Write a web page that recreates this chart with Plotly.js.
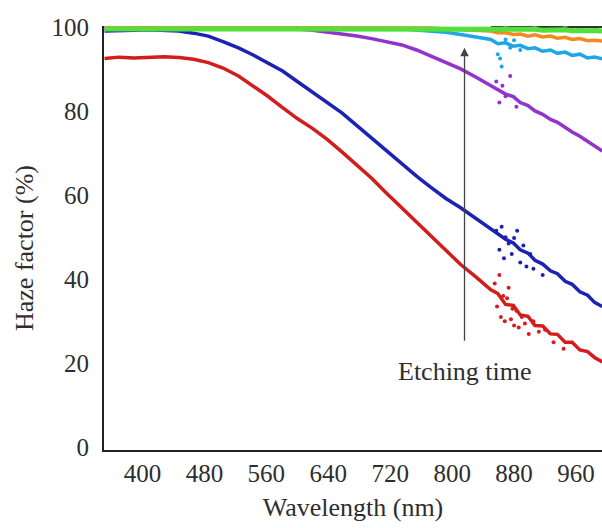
<!DOCTYPE html>
<html>
<head>
<meta charset="utf-8">
<script src="https://cdn.plot.ly/plotly-3.0.1.min.js"></script>
<style>html,body{margin:0;padding:0;background:#fff;}#chart{width:602px;height:528px;}</style>
</head>
<body>
<div id="chart"></div>
<script>
// Wavelength grid (nm)
const wavelength = [351,370,389,408,428,447,466,485,504,524,543,562,581,600,620,639,658,677,696,715,735,754,773,792,811,831,850,859,869,879,888,898,907,917,927,936,946,955,965,975,984,994];

// Haze factor (%) per etching time
const hazeRed    = [92.5,92.8,92.6,92.8,92.9,92.7,92.3,91.5,90.2,88.3,86.0,83.5,80.8,78.2,75.8,73.2,70.2,67.0,64.0,60.5,57.0,53.5,50.2,47.0,43.5,40.5,37.5,36.6,34.0,33.8,31.5,31.2,29.0,28.9,27.0,26.9,25.0,25.0,23.2,22.8,21.4,20.3];
const hazeBlue   = [99.0,99.2,99.2,99.3,99.2,99.0,98.5,97.8,96.5,95.0,93.3,91.5,89.5,87.0,84.5,82.0,79.5,76.5,73.5,70.5,67.5,64.5,61.8,59.2,57.0,54.5,52.0,50.8,49.5,48.6,47.0,46.2,44.5,43.6,42.0,41.3,39.5,38.8,37.0,36.2,34.5,33.5];
const hazePurple = [99.7,99.7,99.7,99.7,99.7,99.7,99.7,99.7,99.7,99.7,99.6,99.6,99.6,99.5,99.2,98.8,98.3,97.8,97.2,96.5,95.7,94.5,93.0,91.5,90.0,88.0,86.0,85.2,84.0,83.4,82.0,81.3,80.0,79.2,78.0,77.3,76.0,75.0,74.0,72.8,71.5,70.5];
const hazeCyan   = [99.8,99.8,99.8,99.8,99.8,99.8,99.8,99.8,99.8,99.8,99.8,99.8,99.8,99.8,99.8,99.8,99.8,99.8,99.7,99.6,99.5,99.3,99.0,98.7,98.2,97.6,97.0,96.0,96.2,95.4,95.6,94.8,95.0,94.2,94.5,93.7,94.0,93.2,93.5,92.6,92.8,92.4];
const hazeOrange = [99.8,99.8,99.8,99.8,99.8,99.8,99.8,99.8,99.8,99.8,99.8,99.8,99.8,99.8,99.8,99.8,99.8,99.8,99.8,99.8,99.8,99.8,99.7,99.5,99.3,99.1,99.0,98.6,98.6,98.2,98.3,97.8,98.1,97.6,97.8,97.3,97.5,97.0,97.2,96.7,96.8,96.6];
const hazeGreen  = [99.5,99.5,99.5,99.5,99.5,99.5,99.5,99.5,99.5,99.5,99.5,99.5,99.5,99.5,99.5,99.5,99.5,99.5,99.5,99.5,99.5,99.5,99.5,99.5,99.5,99.5,99.5,99.4,99.5,99.3,99.4,99.3,99.4,99.2,99.3,99.2,99.3,99.1,99.2,99.1,99.1,99.0];

// Darkest series, only visible above the green one in the near-IR
const darkX = [850,859,869,879,888,898,907,917,927,936,946,955,965,975,984,994];
const darkY = [99.9,100.0,99.8,100.0,99.9,100.0,99.8,100.0,99.9,100.0,99.8,100.0,99.9,100.0,99.9,100.0];

// Scattered noisy readings (near-IR region)
const redScatterX  = [855,858,861,863,866,868,871,873,876,878,880,883,886,890,894,899,905,912,920,931,944];
const redScatterY  = [39.0,33.5,41.0,31.0,36.0,30.0,35.5,38.0,30.5,33.0,29.0,32.5,28.5,31.0,29.5,27.0,30.0,27.5,28.0,25.0,23.5];
const blueScatterX = [857,861,864,867,869,873,877,880,884,888,892,896,901,905,917];
const blueScatterY = [51.5,47.0,52.5,45.0,50.0,48.5,46.0,49.8,51.5,44.0,48.0,43.0,46.0,42.5,41.0];
const purpleScatterX = [857,861,865,869,875,883];
const purpleScatterY = [87.0,82.0,86.0,83.5,88.3,81.0];
const cyanScatterX = [859,862,864,869,875,880,888];
const cyanScatterY = [93.5,92.5,90.6,97.0,95.0,96.8,94.5];

const arrowX = 816, arrowTop = 95.0, arrowBottom = 25, labelY = 18;

const colors = {red:'#d41c1c', blue:'#1c22b4', purple:'#9233cc', cyan:'#1ea6e6', orange:'#f28a1e', green:'#52e03c', dark:'#2a3a22'};

function line(x, y, c, w){ return {x: x, y: y, mode:'lines', line:{color:c, width:w||3.5}, hoverinfo:'skip', showlegend:false}; }
function pts(x, y, c){ return {x: x, y: y, mode:'markers', marker:{color:c, size:4}, hoverinfo:'skip', showlegend:false}; }

const data = [
  line(wavelength, hazeRed, colors.red), pts(redScatterX, redScatterY, colors.red),
  line(wavelength, hazeBlue, colors.blue), pts(blueScatterX, blueScatterY, colors.blue),
  line(wavelength, hazePurple, colors.purple), pts(purpleScatterX, purpleScatterY, colors.purple),
  line(wavelength, hazeCyan, colors.cyan), pts(cyanScatterX, cyanScatterY, colors.cyan),
  line(wavelength, hazeOrange, colors.orange),
  line(darkX, darkY, colors.dark, 2.5),
  line(wavelength, hazeGreen, colors.green, 5)
];

const serif = 'Liberation Serif';
const txt = '#2e2e2e';
const layout = {
  width: 602, height: 528,
  margin: {l:104, r:0, t:26, b:78},
  paper_bgcolor:'#fff', plot_bgcolor:'#fff',
  showlegend:false,
  font:{family: serif, size: 25, color: txt},
  xaxis:{
    range:[350.3, 993.6], tickvals:[400,480,560,640,720,800,880,960],
    showgrid:false, zeroline:false, showline:true, linecolor:'#222', linewidth:2,
    ticks:'',
    tickfont:{family: serif, size:25, color: txt},
    title:{text:'Wavelength (nm)', font:{family: serif, size:26, color: txt}, standoff:12}
  },
  yaxis:{
    range:[-0.6, 100.2], tickvals:[0,20,40,60,80,100],
    showgrid:false, zeroline:false, showline:true, linecolor:'#222', linewidth:2,
    ticks:'outside', ticklen:8, tickcolor:'rgba(0,0,0,0)',
    tickfont:{family: serif, size:25, color: txt}
  },
  annotations:[
    {x:arrowX, y:arrowTop, ax:arrowX, ay:arrowBottom, xref:'x', yref:'y', axref:'x', ayref:'y',
     showarrow:true, arrowhead:2, arrowsize:1.3, arrowwidth:1.3, arrowcolor:'#444', text:''},
    {x:arrowX, y:labelY, xref:'x', yref:'y', showarrow:false, text:'Etching time',
     font:{family: serif, size:26, color: txt}},
    {x:(24 - 104) / 498, y:(450 - 248) / 424, xref:'paper', yref:'paper', xanchor:'center', yanchor:'middle',
     showarrow:false, text:'Haze factor (%)', textangle:-90,
     font:{family: serif, size:26, color: txt}}
  ]
};

Plotly.newPlot('chart', data, layout, {staticPlot:true, displayModeBar:false});
</script>
</body>
</html>
